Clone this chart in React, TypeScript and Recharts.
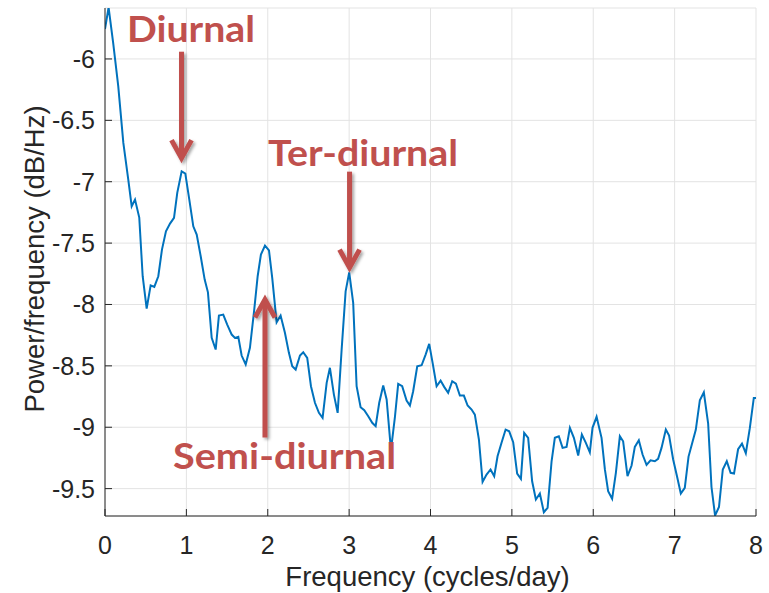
import React from "react";
import {
  LineChart,
  Line,
  XAxis,
  YAxis,
  CartesianGrid,
  ReferenceLine,
  ReferenceDot,
  Label,
} from "recharts";

// Frequency (cycles/day)
const FREQ = [
  0.0, 0.044, 0.1, 0.163, 0.225, 0.286, 0.328, 0.369, 0.421, 0.463, 0.512, 0.561, 0.606, 0.655, 0.7, 0.749, 0.799,
  0.848, 0.888, 0.942, 0.987, 1.036, 1.085, 1.127, 1.176, 1.225, 1.265, 1.311, 1.36, 1.4, 1.453, 1.502, 1.557, 1.597,
  1.638, 1.679, 1.729, 1.781, 1.834, 1.876, 1.916, 1.966, 2.015, 2.055, 2.109, 2.158, 2.211, 2.26, 2.301, 2.343, 2.396,
  2.436, 2.485, 2.531, 2.58, 2.629, 2.674, 2.724, 2.764, 2.813, 2.859, 2.908, 2.957, 3.001, 3.05, 3.092, 3.141, 3.186,
  3.235, 3.284, 3.326, 3.37, 3.419, 3.461, 3.514, 3.563, 3.603, 3.652, 3.706, 3.747, 3.787, 3.837, 3.891, 3.94, 3.984,
  4.026, 4.075, 4.124, 4.168, 4.217, 4.267, 4.312, 4.361, 4.41, 4.456, 4.505, 4.545, 4.595, 4.64, 4.689, 4.738, 4.783,
  4.824, 4.873, 4.923, 4.967, 5.016, 5.065, 5.111, 5.151, 5.2, 5.249, 5.295, 5.344, 5.393, 5.439, 5.488, 5.528, 5.577,
  5.623, 5.672, 5.713, 5.762, 5.815, 5.86, 5.909, 5.958, 5.991, 6.041, 6.102, 6.143, 6.183, 6.232, 6.278, 6.327, 6.367,
  6.421, 6.471, 6.511, 6.56, 6.606, 6.655, 6.704, 6.757, 6.797, 6.839, 6.892, 6.932, 6.982, 7.027, 7.076, 7.125, 7.171,
  7.217, 7.26, 7.31, 7.359, 7.412, 7.453, 7.497, 7.545, 7.592, 7.641, 7.688, 7.73, 7.78, 7.828, 7.875, 7.924, 7.973, 8.0,
];

// Power/frequency (dB/Hz)
const PSD = [
  -5.756, -5.58, -5.867, -6.223, -6.682, -6.983, -7.2, -7.146, -7.292, -7.77, -8.033, -7.844, -7.857, -7.77, -7.553,
  -7.404, -7.341, -7.295, -7.091, -6.915, -6.934, -7.146, -7.363, -7.431, -7.607, -7.797, -7.901, -8.272, -8.367, -8.09,
  -8.082, -8.164, -8.245, -8.272, -8.264, -8.416, -8.489, -8.353, -8.042, -7.77, -7.594, -7.52, -7.559, -7.783, -8.145,
  -8.09, -8.231, -8.394, -8.503, -8.53, -8.416, -8.389, -8.435, -8.666, -8.801, -8.883, -8.923, -8.638, -8.516, -8.734,
  -8.883, -8.367, -7.893, -7.738, -7.987, -8.666, -8.837, -8.862, -8.91, -8.964, -8.992, -8.801, -8.66, -8.774, -9.187,
  -8.915, -8.647, -8.666, -8.783, -8.823, -8.707, -8.503, -8.495, -8.408, -8.321, -8.476, -8.666, -8.62, -8.671, -8.72,
  -8.625, -8.644, -8.742, -8.742, -8.823, -8.856, -8.897, -9.1, -9.445, -9.385, -9.344, -9.399, -9.236, -9.127, -9.019,
  -9.033, -9.122, -9.377, -9.42, -9.046, -9.086, -9.44, -9.589, -9.54, -9.692, -9.656, -9.277, -9.086, -9.073, -9.168,
  -9.16, -9.005, -9.086, -9.23, -9.059, -9.127, -9.204, -9.005, -8.915, -9.086, -9.344, -9.521, -9.583, -9.371, -9.073,
  -9.114, -9.399, -9.312, -9.16, -9.106, -9.222, -9.306, -9.269, -9.277, -9.257, -9.168, -9.019, -9.068, -9.263, -9.393,
  -9.54, -9.493, -9.239, -9.127, -9.021, -8.78, -8.715, -8.97, -9.487, -9.719, -9.65, -9.344, -9.277, -9.371, -9.377,
  -9.179, -9.133, -9.212, -9.008, -8.761, -8.761,
];

const X_TICKS = [0, 1, 2, 3, 4, 5, 6, 7, 8];
const Y_TICKS = [-9.5, -9, -8.5, -8, -7.5, -7, -6.5, -6];
const X_DOMAIN = [0, 8];
const Y_DOMAIN = [-9.723, -5.585];

// Annotation labels and arrows (data coordinates)
const ARROWS = [
  { name: "Diurnal", x: 0.94, tail: -5.941, tip: -6.808 },
  { name: "Ter-diurnal", x: 3.005, tail: -6.918, tip: -7.7 },
  { name: "Semi-diurnal", x: 1.966, tail: -9.084, tip: -7.96 },
];
const NOTES = [
  { text: "Diurnal", x: 1.057, y: -5.859, len: 128 },
  { text: "Ter-diurnal", x: 3.171, y: -6.869, len: 190 },
  { text: "Semi-diurnal", x: 2.206, y: -9.344, len: 223 },
];

const data = FREQ.map((f, i) => ({ f, v: PSD[i] }));

const AXIS = "#262626";
const RED = "#C0504D";
const FONT = "'Liberation Sans', Arial, Helvetica, sans-serif";

const BottomTick = (p: any) => (
  <g>
    <line x1={p.x} y1={p.y} x2={p.x} y2={p.y - 7} stroke={AXIS} strokeWidth={1} />
    <text x={p.x} y={p.y + 38} textAnchor="middle" fontSize={25} fontFamily={FONT} fill={AXIS}>
      {p.payload.value}
    </text>
  </g>
);
const TopTick = (p: any) => (
  <line x1={p.x} y1={p.y} x2={p.x} y2={p.y + 7} stroke={AXIS} strokeWidth={1} />
);
const LeftTick = (p: any) => (
  <g>
    <line x1={p.x} y1={p.y} x2={p.x + 7} y2={p.y} stroke={AXIS} strokeWidth={1} />
    <text x={p.x - 10} y={p.y + 9} textAnchor="end" fontSize={25} fontFamily={FONT} fill={AXIS}>
      {p.payload.value}
    </text>
  </g>
);
const RightTick = (p: any) => (
  <line x1={p.x} y1={p.y} x2={p.x - 7} y2={p.y} stroke={AXIS} strokeWidth={1} />
);

const ArrowShape = (p: any) => {
  const { x1, y1, x2, y2 } = p;
  const dir = y2 > y1 ? 1 : -1;
  const hw = 10;
  const hl = 18;
  return (
    <g filter="url(#arrowShadow)">
      <line x1={x1} y1={y1} x2={x2} y2={y2 - dir * 3} stroke={RED} strokeWidth={5} />
      <polyline
        points={`${x2 - hw},${y2 - dir * hl} ${x2},${y2} ${x2 + hw},${y2 - dir * hl}`}
        fill="none"
        stroke={RED}
        strokeWidth={5}
        strokeLinejoin="miter"
      />
    </g>
  );
};

const NoteShape = (text: string, len: number) => (p: any) => (
  <text
    x={p.cx}
    y={p.cy}
    textAnchor="middle"
    fontSize={36}
    fontWeight="bold"
    fontFamily="Lato, 'Open Sans', sans-serif"
    fill={RED}
    textLength={len}
    lengthAdjust="spacingAndGlyphs"
  >
    {text}
  </text>
);

export default function App() {
  return (
    <div style={{ position: "absolute", left: 0, top: 0, width: 769, height: 593, background: "#fff" }}>
      <svg width={0} height={0} style={{ position: "absolute" }}>
        <defs>
          <filter id="arrowShadow" x="-50%" y="-20%" width="200%" height="140%">
            <feDropShadow dx={2} dy={2} stdDeviation={1.5} floodColor="#000" floodOpacity={0.35} />
          </filter>
        </defs>
      </svg>
      <LineChart
        width={769}
        height={593}
        data={data}
        margin={{ top: 8, right: 13, bottom: 0, left: 0 }}
      >
        <CartesianGrid stroke="#e3e3e3" strokeWidth={1} />
        <XAxis
          dataKey="f"
          type="number"
          domain={X_DOMAIN}
          ticks={X_TICKS}
          interval={0}
          allowDataOverflow
          height={77}
          tickSize={0}
          tickMargin={0}
          tickLine={false}
          axisLine={{ stroke: AXIS, strokeWidth: 1 }}
          tick={<BottomTick />}
        >
          <Label
            content={(props: any) => {
              const vb = props.viewBox || { x: 105, y: 516, width: 651 };
              return (
                <text
                  x={vb.x + vb.width / 2 - 3}
                  y={586}
                  textAnchor="middle"
                  fontSize={27.5}
                  fontFamily={FONT}
                  fill={AXIS}
                >
                  Frequency (cycles/day)
                </text>
              );
            }}
          />
        </XAxis>
        <XAxis
          xAxisId="top"
          orientation="top"
          dataKey="f"
          type="number"
          domain={X_DOMAIN}
          ticks={X_TICKS}
          interval={0}
          allowDataOverflow
          height={0}
          tickSize={0}
          tickMargin={0}
          tickLine={false}
          axisLine={{ stroke: AXIS, strokeWidth: 1 }}
          tick={<TopTick />}
        />
        <YAxis
          type="number"
          domain={Y_DOMAIN}
          ticks={Y_TICKS}
          interval={0}
          allowDataOverflow
          width={105}
          tickSize={0}
          tickMargin={0}
          tickLine={false}
          axisLine={{ stroke: AXIS, strokeWidth: 1 }}
          tick={<LeftTick />}
        >
          <Label
            content={() => (
              <text
                x={44}
                y={259}
                transform="rotate(-90 44 259)"
                textAnchor="middle"
                fontSize={27.5}
                fontFamily={FONT}
                fill={AXIS}
              >
                Power/frequency (dB/Hz)
              </text>
            )}
          />
        </YAxis>
        <YAxis
          yAxisId="right"
          orientation="right"
          type="number"
          domain={Y_DOMAIN}
          ticks={Y_TICKS}
          interval={0}
          allowDataOverflow
          width={0}
          tickSize={0}
          tickMargin={0}
          tickLine={false}
          axisLine={{ stroke: AXIS, strokeWidth: 1 }}
          tick={<RightTick />}
        />
        <Line
          type="linear"
          dataKey="v"
          stroke="#0072BD"
          strokeWidth={2}
          dot={false}
          activeDot={false}
          isAnimationActive={false}
        />
        {ARROWS.map((a) => (
          <ReferenceLine
            key={a.name}
            segment={[
              { x: a.x, y: a.tail },
              { x: a.x, y: a.tip },
            ]}
            stroke={RED}
            shape={ArrowShape}
          />
        ))}
        {NOTES.map((n) => (
          <ReferenceDot key={n.text} x={n.x} y={n.y} r={0} shape={NoteShape(n.text, n.len)} />
        ))}
      </LineChart>
    </div>
  );
}
